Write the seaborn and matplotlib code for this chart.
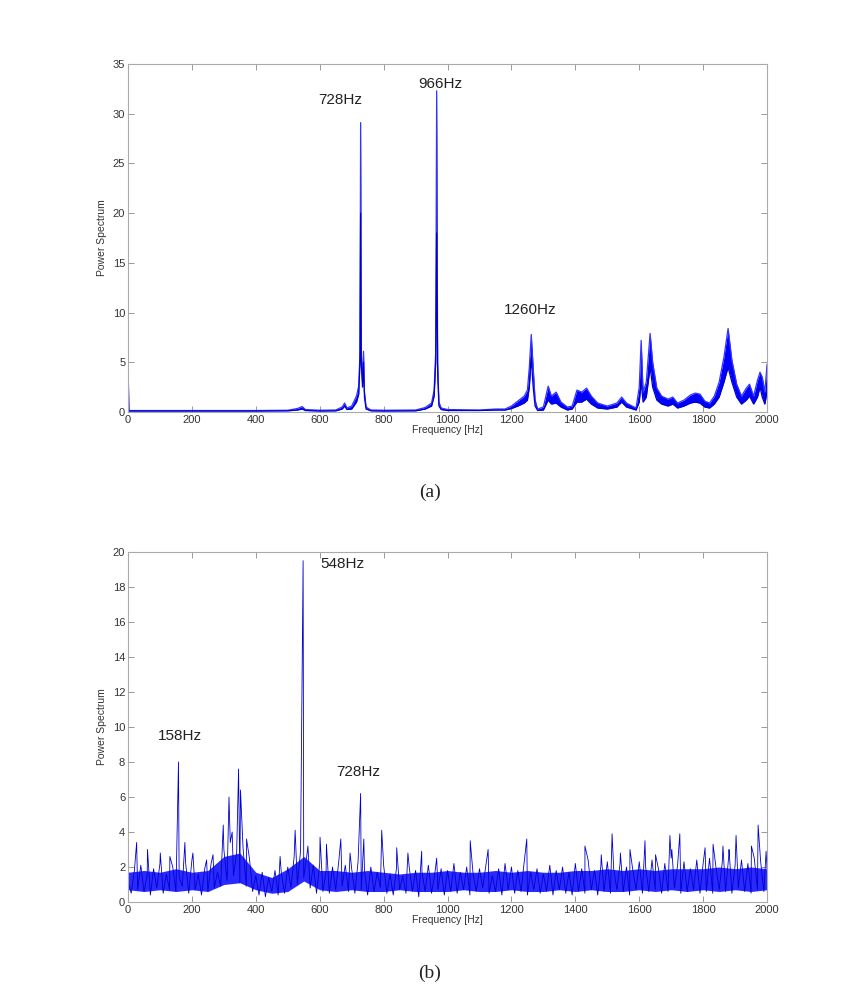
import numpy as np
import pandas as pd
import matplotlib
matplotlib.use("Agg")
import matplotlib.pyplot as plt
import seaborn as sns

sns.set_style("white")
plt.rcParams['font.family'] = ['Liberation Sans', 'DejaVu Sans']

# ---------------- Panel (a) data: frequency, lower / upper trace ----------------
freq_a = [0, 3, 100, 200, 300, 400, 500, 530, 545, 555, 600, 650, 670, 678, 685, 700, 715, 722, 726,
          728, 730, 734, 737, 740, 745, 760, 800, 900, 930, 950, 958, 963, 966, 969, 973, 980,
          1000, 1100, 1150, 1180, 1200, 1220, 1240, 1250, 1256, 1262, 1268, 1274, 1282, 1300,
          1315, 1325, 1340, 1355, 1375, 1390, 1405, 1420, 1435, 1450, 1470, 1500, 1530, 1545,
          1560, 1590, 1600, 1606, 1612, 1622, 1634, 1642, 1655, 1670, 1690, 1705, 1720, 1740,
          1760, 1775, 1790, 1805, 1820, 1835, 1850, 1865, 1878, 1890, 1905, 1920, 1935, 1945,
          1958, 1970, 1978, 1985, 1993, 2000]
upper_a = [4.8, 0.15, 0.15, 0.15, 0.15, 0.15, 0.18, 0.35, 0.55, 0.25, 0.18, 0.2, 0.5, 0.9, 0.4, 0.6,
           1.6, 2.6, 6.0, 29.1, 6.0, 3.0, 6.1, 2.0, 0.5, 0.2, 0.18, 0.2, 0.45, 0.9, 2.2, 6.0, 32.3,
           5.0, 1.0, 0.4, 0.25, 0.2, 0.3, 0.3, 0.6, 1.1, 1.6, 2.2, 4.5, 7.8, 4.5, 1.2, 0.3, 0.5,
           2.6, 1.6, 2.0, 1.0, 0.5, 0.6, 2.2, 2.0, 2.4, 1.6, 0.9, 0.6, 0.9, 1.5, 0.9, 0.4, 2.5,
           7.2, 2.0, 3.0, 7.9, 5.0, 2.4, 1.6, 1.3, 1.5, 0.9, 1.2, 1.7, 1.9, 1.8, 1.1, 0.9, 1.6,
           3.0, 5.5, 8.4, 5.2, 2.8, 1.6, 2.4, 2.8, 1.6, 3.2, 4.0, 3.5, 2.0, 4.8]
lower_a = [0.1, 0.1, 0.1, 0.1, 0.1, 0.1, 0.12, 0.2, 0.3, 0.15, 0.1, 0.12, 0.3, 0.6, 0.25, 0.3,
           1.0, 1.8, 5.0, 20.0, 5.0, 2.5, 5.0, 1.5, 0.3, 0.12, 0.1, 0.12, 0.3, 0.6, 1.6, 5.0, 18.0,
           4.0, 0.6, 0.25, 0.15, 0.15, 0.2, 0.2, 0.35, 0.6, 0.9, 1.2, 2.5, 5.5, 2.5, 0.6, 0.15, 0.2,
           1.2, 0.8, 0.9, 0.5, 0.2, 0.3, 1.0, 1.0, 1.3, 0.8, 0.4, 0.3, 0.5, 1.0, 0.5, 0.2, 1.0,
           3.0, 1.0, 1.5, 4.5, 2.5, 1.2, 0.8, 0.6, 0.8, 0.4, 0.6, 0.9, 1.0, 0.9, 0.5, 0.4, 0.8,
           1.5, 3.0, 4.5, 3.0, 1.5, 0.8, 1.2, 1.6, 0.8, 1.5, 2.5, 1.5, 0.8, 2.0]

labels_a = ["728Hz", "966Hz", "1260Hz"]
label_pos_a = [(664, 31.4), (977, 33.0), (1258, 10.3)]

# ---------------- Panel (b) data: noise floor (10 Hz grid) + spikes ----------------
grid_b = list(range(0, 2001, 10))
noise_b = [1.2, 0.5, 1.8, 0.7, 2.1, 0.6, 1.5, 0.4, 1.9, 0.8, 2.2, 0.5, 1.6, 0.7, 2.0, 0.6, 1.4, 0.9, 2.3, 0.5,
           2.4, 0.7, 1.6, 0.4, 1.9, 0.6, 2.2, 0.8, 1.7, 0.9, 3.0, 1.2, 3.4, 1.5, 2.8, 1.1, 3.1, 0.9, 2.5, 0.6,
           1.5, 0.4, 1.7, 0.3, 1.4, 0.6, 1.8, 0.4, 1.6, 0.5, 2.0, 0.8, 2.6, 1.0, 2.9, 1.4, 2.7, 0.8, 2.1, 0.5,
           2.2, 0.6, 1.8, 0.5, 2.0, 0.7, 2.4, 0.9, 2.1, 0.6, 1.9, 0.5, 2.3, 0.7, 1.8, 0.4, 2.0, 0.6, 1.7, 0.8,
           2.1, 0.5, 1.6, 0.4, 1.9, 0.7, 1.5, 0.5, 2.0, 0.6, 1.8, 0.3, 1.7, 0.6, 2.1, 0.5, 1.6, 0.7, 1.9, 0.4,
           1.8, 0.6, 2.2, 0.5, 1.7, 0.7, 2.0, 0.4, 1.6, 0.6, 1.9, 0.8, 2.1, 0.5, 1.5, 0.6, 1.9, 0.4, 2.2, 0.7,
           2.0, 0.5, 1.8, 0.6, 2.3, 0.4, 1.7, 0.7, 1.9, 0.5, 1.6, 0.6, 2.1, 0.4, 1.8, 0.7, 2.0, 0.5, 1.7, 0.4,
           2.2, 0.6, 1.9, 0.5, 2.4, 0.7, 1.8, 0.4, 2.1, 0.6, 2.3, 0.5, 1.9, 0.7, 2.2, 0.6, 2.0, 0.4, 1.8, 0.7,
           2.3, 0.5, 2.0, 0.6, 2.4, 0.7, 1.9, 0.5, 2.2, 0.6, 2.5, 0.8, 2.1, 0.5, 2.3, 0.6, 1.9, 0.7, 2.4, 0.5,
           2.2, 0.6, 2.5, 0.5, 2.0, 0.7, 2.3, 0.6, 2.6, 0.5, 2.1, 0.8, 2.4, 0.6, 2.2, 0.5, 2.5, 0.7, 2.3, 0.6,
           1.9]
spike_f_b = [27, 61, 101, 131, 158, 178, 203, 246, 266, 298, 316, 326, 346, 352, 371, 476, 523, 548,
             563, 601, 621, 666, 695, 728, 738, 794, 841, 876, 919, 966, 1071, 1127, 1248, 1430,
             1481, 1515, 1541, 1571, 1618, 1651, 1696, 1702, 1727, 1806, 1831, 1862, 1881, 1903,
             1951, 1972, 1997]
spike_v_b = [3.4, 3.0, 2.8, 2.6, 8.0, 3.4, 2.8, 2.4, 2.7, 4.4, 6.0, 4.0, 7.6, 6.4, 3.6, 2.6, 4.1, 19.5,
             3.2, 3.7, 3.3, 3.6, 2.8, 6.2, 3.6, 4.1, 3.1, 2.8, 2.9, 2.5, 3.5, 3.0, 3.6, 3.2,
             2.7, 3.9, 2.8, 3.0, 3.5, 2.7, 3.8, 3.0, 3.9, 3.1, 3.3, 3.2, 3.0, 3.8,
             3.2, 4.4, 2.9]
# dense core of the noise floor (50 Hz grid)
env_f_b = list(range(0, 2001, 50))
env_lo_b = [0.7, 0.6, 0.7, 0.6, 0.7, 0.6, 1.0, 1.1, 0.7, 0.5,
            0.6, 1.2, 0.7, 0.6, 0.7, 0.6, 0.6, 0.7, 0.6, 0.6,
            0.6, 0.7, 0.6, 0.6, 0.7, 0.6, 0.6, 0.7, 0.6, 0.7,
            0.6, 0.6, 0.7, 0.6, 0.7, 0.6, 0.7, 0.6, 0.7, 0.6, 0.7]
env_hi_b = [1.7, 1.8, 1.7, 1.9, 1.7, 1.8, 2.6, 2.8, 1.7, 1.4,
            1.9, 2.6, 1.8, 1.8, 1.7, 1.8, 1.7, 1.6, 1.7, 1.7,
            1.8, 1.7, 1.7, 1.8, 1.7, 1.8, 1.7, 1.7, 1.8, 1.8,
            1.9, 1.8, 1.9, 1.8, 1.9, 1.9, 1.9, 2.0, 1.9, 2.0, 1.9]

labels_b = ["548Hz", "158Hz", "728Hz"]
label_pos_b = [(670, 19.3), (163, 9.5), (720, 7.4)]

BLUE = "#0000ff"

fig = plt.figure(figsize=(8.58, 10.01), dpi=100)
ax_a = fig.add_axes([0.1492, 0.5884, 0.7448, 0.3477])
ax_b = fig.add_axes([0.1492, 0.0989, 0.7448, 0.3497])


def style(ax, ymax, ystep):
    ax.set_xlim(0, 2000)
    ax.set_ylim(0, ymax)
    ax.set_xticks(range(0, 2001, 200))
    ax.set_yticks(np.arange(0, ymax + 0.01, ystep))
    ax.tick_params(direction="in", length=4, width=0.6, colors="#888888", labelcolor="#333333",
                   labelsize=8, top=True, right=True, bottom=True, left=True, pad=2)
    for s in ax.spines.values():
        s.set_color("#aaaaaa")
        s.set_linewidth(0.8)
    ax.set_xlabel("Frequency [Hz]", fontsize=7.5, color="#333333", labelpad=0)
    ax.set_ylabel("Power Spectrum", fontsize=7.5, color="#333333", labelpad=4)


# Panel (a)
df_a = pd.DataFrame({"f": freq_a, "lo": lower_a, "hi": upper_a})
ax_a.fill_between(df_a["f"], df_a["lo"], df_a["hi"], color=BLUE, lw=0)
sns.lineplot(data=df_a, x="f", y="hi", ax=ax_a, color="#3333ff", lw=0.9, estimator=None)
sns.lineplot(data=df_a, x="f", y="lo", ax=ax_a, color="#0000cc", lw=0.9, estimator=None)
style(ax_a, 35, 5)
for t, (x, y) in zip(labels_a, label_pos_a):
    ax_a.text(x, y, t, fontsize=11, ha="center", va="center", color="#222222")

# Panel (b)
df_env = pd.DataFrame({"f": env_f_b, "lo": env_lo_b, "hi": env_hi_b})
ax_b.fill_between(df_env["f"], df_env["lo"], df_env["hi"], color="#2a2aff", lw=0)
df_b = pd.concat([pd.DataFrame({"f": grid_b, "v": noise_b}),
                  pd.DataFrame({"f": spike_f_b, "v": spike_v_b})]).sort_values("f")
sns.lineplot(data=df_b, x="f", y="v", ax=ax_b, color="#0000d0", lw=0.6, estimator=None, sort=True)
style(ax_b, 20, 2)
for t, (x, y) in zip(labels_b, label_pos_b):
    ax_b.text(x, y, t, fontsize=11, ha="center", va="center", color="#222222")

fig.text(430 / 858, 1 - 492 / 1001, "(a)", fontsize=14, family="Liberation Serif",
         ha="center", va="center", color="#222222")
fig.text(430 / 858, 1 - 973 / 1001, "(b)", fontsize=14, family="Liberation Serif",
         ha="center", va="center", color="#222222")

fig.savefig("out.png", dpi=100)
